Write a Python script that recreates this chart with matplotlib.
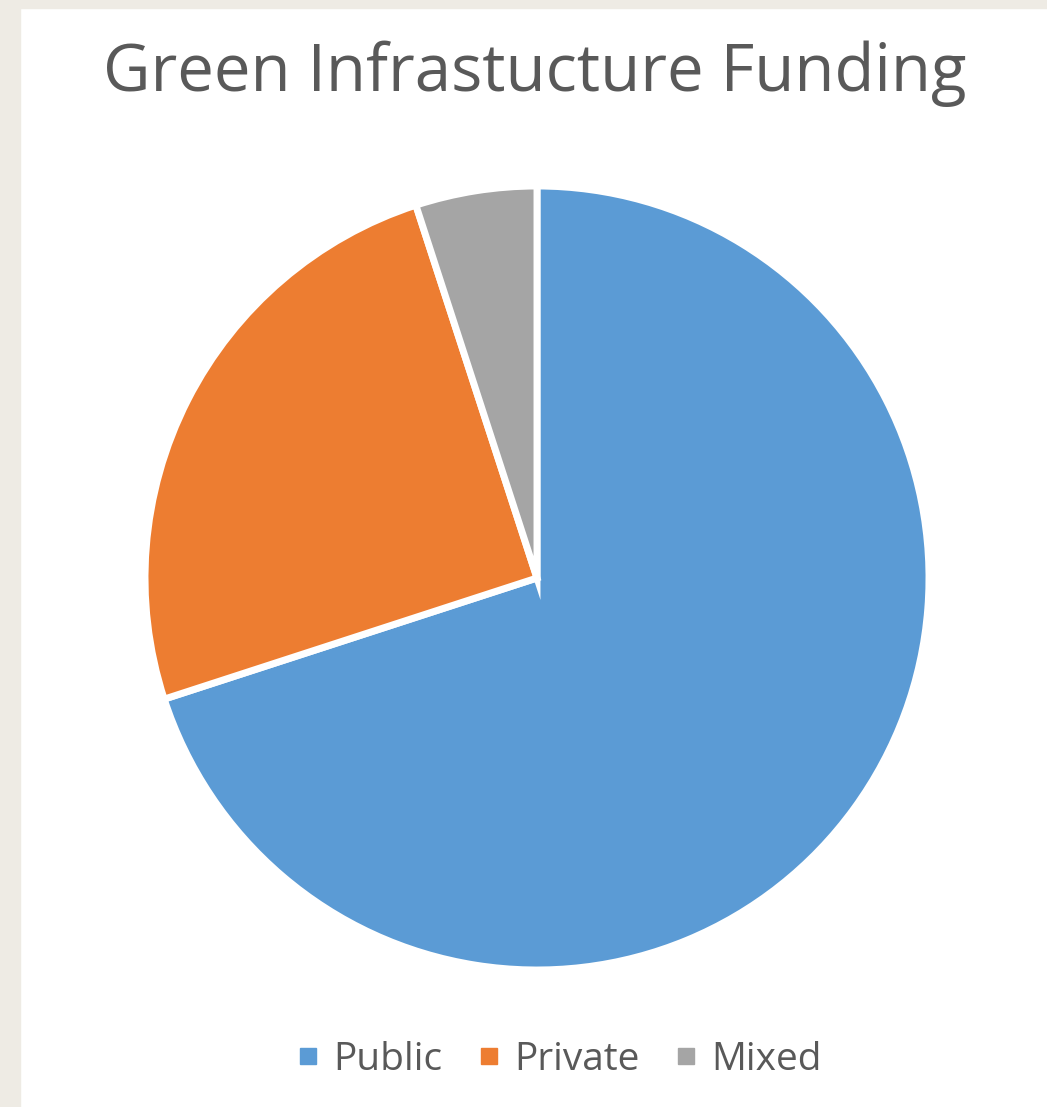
import matplotlib.pyplot as plt
from matplotlib.patches import Rectangle
from matplotlib.lines import Line2D

labels = ["Public", "Private", "Mixed"]
shares = [70, 25, 5]
colors = ["#5B9BD5", "#ED7D31", "#A5A5A5"]

W, H = 1047, 1107
fig = plt.figure(figsize=(W / 100, H / 100), dpi=100)
fig.patch.set_facecolor("white")

# beige frame on left and top
fig.patches.append(Rectangle((0, 0), 20 / W, 1, transform=fig.transFigure, color="#EEEBE4", zorder=0))
fig.patches.append(Rectangle((0, 1 - 8 / H), 1, 8 / H, transform=fig.transFigure, color="#EEEBE4", zorder=0))

# pie axes: centre (537, 578), radius 392 px
cx, cy, r = 537, 578, 392
ax = fig.add_axes([(cx - r) / W, (H - cy - r) / H, 2 * r / W, 2 * r / H])
ax.pie(shares, colors=colors, startangle=90, counterclock=False, radius=1,
       wedgeprops=dict(edgecolor="white", linewidth=5))
ax.set_xlim(-1.0, 1.0)
ax.set_ylim(-1.0, 1.0)
ax.axis("off")

fig.text(535 / W, 1 - 74 / H, "Green Infrastucture Funding", ha="center", va="center",
         fontsize=47, color="#595959", family="Open Sans")

handles = [Line2D([0], [0], marker="s", linestyle="", markersize=11, color=c) for c in colors]
fig.legend(handles, labels, loc="center", bbox_to_anchor=(559 / W, 1 - 1060 / H), ncol=3,
           frameon=False, handlelength=0.6, handletextpad=0.35, columnspacing=0.9,
           labelcolor="#595959", prop=dict(family="Open Sans", size=28))

fig.savefig("out.png", dpi=100)
